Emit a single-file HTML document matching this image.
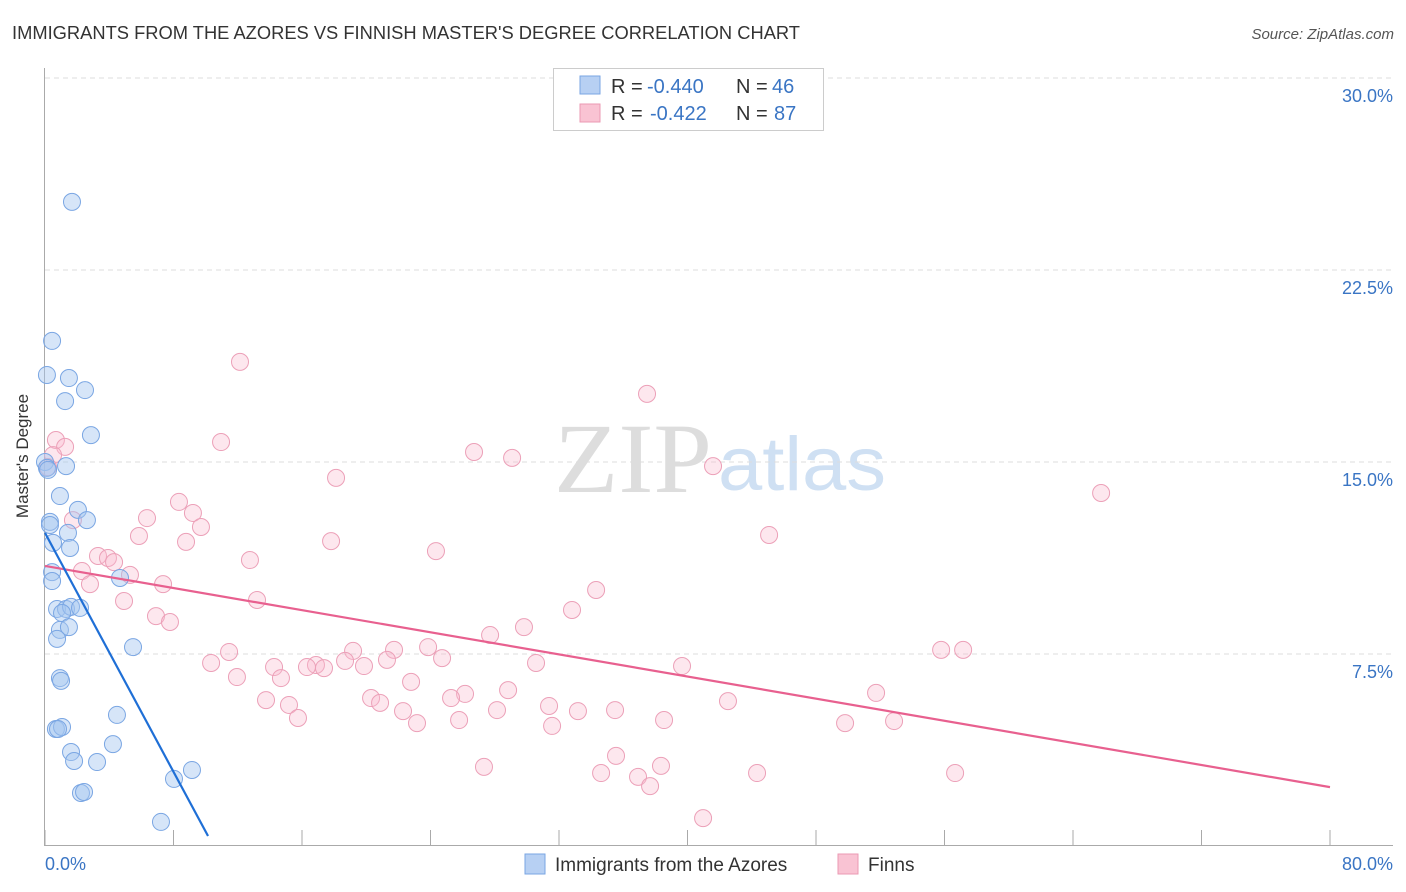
<!DOCTYPE html>
<html><head><meta charset="utf-8">
<style>
body{margin:0;background:#fff;font-family:"Liberation Sans",sans-serif;}
svg{display:block}
</style></head>
<body>
<svg id="chart" width="1406" height="892">
<text x="12" y="39" font-size="18" fill="#333" textLength="788" lengthAdjust="spacingAndGlyphs">IMMIGRANTS FROM THE AZORES VS FINNISH MASTER'S DEGREE CORRELATION CHART</text>
<text x="1394" y="39" font-size="15" fill="#555" text-anchor="end" font-style="italic">Source: ZipAtlas.com</text>
<text x="28" y="456" font-size="17" fill="#333" text-anchor="middle" transform="rotate(-90 28 456)">Master's Degree</text>
<text x="554" y="492" font-size="100" fill="#ddd" font-family="Liberation Serif,serif" textLength="158" lengthAdjust="spacingAndGlyphs">ZIP</text>
<text x="718" y="490" font-size="76" fill="#cfe0f3" textLength="168" lengthAdjust="spacingAndGlyphs">atlas</text>
<g id="grid"></g>
<g id="axes"></g>
<g id="pts"></g>
<g id="lines"></g>
<g>
<rect x="553.5" y="68.5" width="270" height="62" fill="#fff" stroke="#ccc"/>
<rect x="580" y="76" width="20" height="18" fill="#b7d0f3" stroke="#7aa6e3"/>
<rect x="580" y="104" width="20" height="18" fill="#f9c3d3" stroke="#eb9ab3"/>
<text x="611" y="93" font-size="20" fill="#333">R =</text>
<text x="647" y="93" font-size="20" fill="#3a75c4">-0.440</text>
<text x="736" y="93" font-size="20" fill="#333">N =</text>
<text x="772" y="93" font-size="20" fill="#3a75c4">46</text>
<text x="611" y="120" font-size="20" fill="#333">R =</text>
<text x="650" y="120" font-size="20" fill="#3a75c4">-0.422</text>
<text x="736" y="120" font-size="20" fill="#333">N =</text>
<text x="774" y="120" font-size="20" fill="#3a75c4">87</text>
</g>
<g>
<rect x="525" y="854" width="20" height="20" fill="#b7d0f3" stroke="#7aa6e3"/>
<text x="555" y="871" font-size="19" fill="#333">Immigrants from the Azores</text>
<rect x="838" y="854" width="20" height="20" fill="#f9c3d3" stroke="#eb9ab3"/>
<text x="868" y="871" font-size="19" fill="#333">Finns</text>
</g>
</svg>
<script>
const xTickLabels=["0.0%","80.0%"];
const yTicks=[7.5,15,22.5,30];
const yTickLabels=["7.5%","15.0%","22.5%","30.0%"];
const blueX=[1.68,0.44,0.12,1.49,2.49,1.25,2.86,1.31,0.0,0.12,0.93,2.05,2.61,0.31,0.31,1.43,0.50,1.56,0.44,0.44,4.67,0.75,1.31,1.62,2.18,1.06,0.93,1.49,0.75,5.48,0.93,1.00,4.48,0.68,1.06,0.81,4.23,1.62,1.81,3.24,8.03,9.15,2.24,2.43,7.22,0.19];
const blueY=[25.16,19.73,18.40,18.28,17.81,17.38,16.05,14.84,15.0,14.77,13.67,13.13,12.73,12.66,12.54,12.23,11.84,11.64,10.70,10.35,10.47,9.26,9.26,9.34,9.30,9.10,8.44,8.55,8.09,7.77,6.56,6.45,5.12,4.57,4.65,4.57,3.98,3.67,3.32,3.28,2.62,2.97,2.07,2.11,0.94,14.69];
const pinkX=[12.14,37.48,10.96,0.68,1.25,0.50,0.19,26.71,29.08,18.12,41.59,65.75,8.34,9.21,6.35,1.74,9.71,5.85,8.78,17.81,45.08,24.34,3.30,3.92,4.30,12.76,2.30,5.29,2.80,7.35,34.31,4.92,13.20,6.91,32.81,7.78,29.82,27.71,23.85,19.18,21.73,55.79,57.16,11.46,24.72,21.29,30.57,18.68,10.34,16.87,14.26,19.86,16.31,17.37,39.66,11.95,14.69,22.79,28.83,26.15,25.28,20.30,13.76,20.86,15.19,51.74,42.52,31.38,22.29,28.14,33.18,35.49,15.75,25.78,23.16,38.54,49.81,52.86,31.57,35.55,27.33,38.35,34.62,36.92,44.33,56.66,37.67,40.97];
const pinkY=[18.91,17.66,15.78,15.86,15.59,15.27,14.80,15.39,15.16,14.38,14.84,13.79,13.44,13.01,12.81,12.73,12.46,12.11,11.88,11.91,12.15,11.52,11.33,11.25,11.09,11.17,10.74,10.59,10.23,10.23,10.0,9.57,9.61,8.98,9.22,8.75,8.55,8.24,7.77,7.62,7.66,7.66,7.66,7.58,7.34,7.27,7.15,7.23,7.15,7.07,6.99,7.03,6.99,6.95,7.03,6.60,6.56,6.41,6.09,5.94,5.78,5.78,5.70,5.59,5.51,5.98,5.66,5.47,5.27,5.31,5.27,5.31,5.0,4.92,4.80,4.92,4.80,4.88,4.69,3.52,3.09,3.13,2.85,2.70,2.85,2.85,2.34,1.09];
const blueTrend=[[0,12.23],[10.15,0.39]];
const pinkTrend=[[0,10.94],[80,2.30]];
const NS="http://www.w3.org/2000/svg";
const sx=v=>45+v*(1285/80);
const sy=v=>846-v*(192/7.5);
function mk(tag,attrs,parent){const e=document.createElementNS(NS,tag);for(const k in attrs)e.setAttribute(k,attrs[k]);parent.appendChild(e);return e;}
const grid=document.getElementById('grid'),axes=document.getElementById('axes'),pts=document.getElementById('pts'),lines=document.getElementById('lines');
yTicks.forEach((t,i)=>{
 const l=mk('line',{x1:45,x2:1393,y1:sy(t),y2:sy(t),stroke:'#ddd','stroke-dasharray':'5,4'},grid);
 
 
 const tx=mk('text',{x:1393,y:sy(t)+24,'font-size':18,fill:'#3a75c4','text-anchor':'end'},axes);
 tx.textContent=yTickLabels[i];
 
 
});
const xa=mk('line',{x1:45,x2:1393,y1:845.5,y2:845.5,stroke:'#aaa'},axes);


const ya=mk('line',{x1:44.5,x2:44.5,y1:68,y2:846,stroke:'#aaa'},axes);


for(let v=0;v<=80;v+=8){
 const tk=mk('line',{x1:sx(v),x2:sx(v),y1:830,y2:846,stroke:'#aaa'},axes);
 
 
}
[[0,'start'],[80,'end']].forEach((p,i)=>{
 const tx=mk('text',{x:i?1393:45,y:870,'font-size':18,fill:'#3a75c4','text-anchor':p[1]},axes);
 tx.textContent=xTickLabels[i];
 
 
});
pinkX.forEach((x,i)=>{
 const c=mk('circle',{cx:sx(x),cy:sy(pinkY[i]),r:8.5,fill:'rgba(248,185,205,0.35)',stroke:'#eca0b8','stroke-width':1},pts);
 
 
});
blueX.forEach((x,i)=>{
 const c=mk('circle',{cx:sx(x),cy:sy(blueY[i]),r:8.5,fill:'rgba(165,198,240,0.45)',stroke:'#7aa6e3','stroke-width':1},pts);
 
 
});
const pl=mk('line',{x1:sx(pinkTrend[0][0]),y1:sy(pinkTrend[0][1]),x2:sx(pinkTrend[1][0]),y2:sy(pinkTrend[1][1]),stroke:'#e8608f','stroke-width':2.2},lines);


const bl=mk('line',{x1:sx(blueTrend[0][0]),y1:sy(blueTrend[0][1]),x2:sx(blueTrend[1][0]),y2:sy(blueTrend[1][1]),stroke:'#1f6fd6','stroke-width':2.2},lines);


</script>
</body></html>
